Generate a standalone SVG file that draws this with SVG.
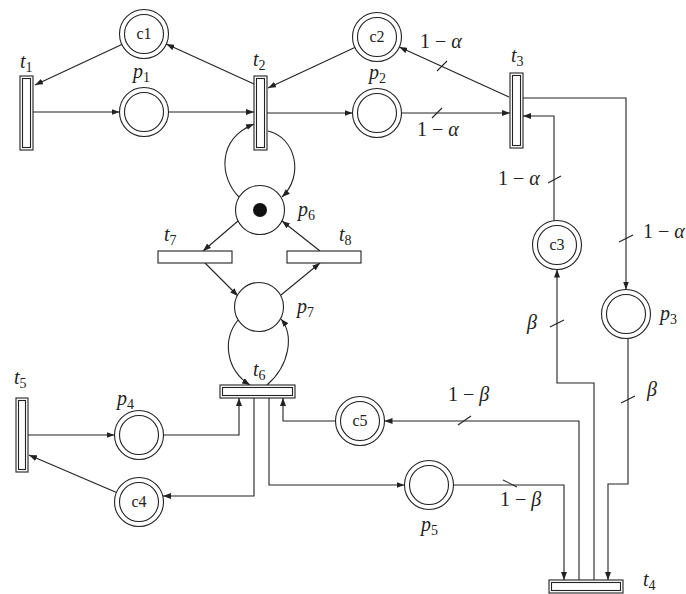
<svg xmlns="http://www.w3.org/2000/svg" width="686" height="594" viewBox="0 0 686 594">
<defs>
<marker id="arr" markerWidth="9" markerHeight="6" refX="8" refY="3" orient="auto" markerUnits="userSpaceOnUse">
<path d="M0,0 L8,3 L0,6 z" fill="#222"/>
</marker>
<style>
.c{fill:none;stroke:#222;stroke-width:1.1;marker-end:url(#arr)}
.tk{fill:none;stroke:#222;stroke-width:1.1}
.pl{fill:#fff;stroke:#222;stroke-width:1.1}
.tr{fill:#fff;stroke:#222;stroke-width:1.1}
.m{font-style:italic;font-size:20px;fill:#222}
.r{font-style:normal;font-size:20px;fill:#222}
.s{font-size:14px;font-style:normal}
.cl{font-size:16px;fill:#222;text-anchor:middle}
</style>
</defs>
<rect width="686" height="594" fill="#fff"/>
<g id="connectors">
<path class="c" d="M121.8,44.4 L35,85"/>
<path class="c" d="M33,112 H119.5"/>
<path class="c" d="M168.5,112 H254"/>
<path class="c" d="M254,84 L166.3,44.1"/>
<path class="c" d="M354.8,47.4 L268,88"/>
<path class="c" d="M267,113 H352.5"/>
<path class="c" d="M401.5,113 H510"/>
<path class="c" d="M509,97 L399.3,47.1"/>
<path class="c" d="M523,98 H626 V289.5"/>
<path class="c" d="M554,220.7 V116 H523"/>
<path class="c" d="M594,580 V383 H557 V269.5"/>
<path class="c" d="M628,338.5 V484 H608 V580"/>
<path class="c" d="M579,580 V421 H384.5"/>
<path class="c" d="M453.5,485 H564 V580"/>
<path class="c" d="M335.5,421 H283 V398"/>
<path class="c" d="M269,398 V485 H404.5"/>
<path class="c" d="M254,398 V496 H163"/>
<path class="c" d="M163.5,435 H239 V398"/>
<path class="c" d="M28,435 H114.5"/>
<path class="c" d="M116.5,492.4 L29,455"/>
<path class="c" d="M268,131 C295,137 305,175 282,197"/>
<path class="c" d="M239,197 C220,178 216,140 254,124"/>
<path class="c" d="M238,221 L203,251"/>
<path class="c" d="M320,251 L282,221"/>
<path class="c" d="M205,263 L238,296"/>
<path class="c" d="M281,295 L320,263"/>
<path class="c" d="M238,320 C222,340 226,370 250,385"/>
<path class="c" d="M267,385 C290,365 294,335 281,319"/>
<path class="tk" d="M432,118 L442,108"/>
<path class="tk" d="M437,71 L447,61"/>
<path class="tk" d="M548,183 L561,176"/>
<path class="tk" d="M619,242 L633,235"/>
<path class="tk" d="M550,327 L564,320"/>
<path class="tk" d="M621,403 L635,396"/>
<path class="tk" d="M458,425 L471,416"/>
<path class="tk" d="M503,480 L517,487"/>
</g>
<g font-family="'Liberation Serif', serif">
<g id="c1"><circle class="pl" cx="144" cy="34" r="24.5"/><circle class="pl" cx="144" cy="34" r="19.5"/><text class="cl" x="144" y="39">c1</text></g>
<g id="p1"><circle class="pl" cx="144" cy="112" r="24.5"/><circle class="pl" cx="144" cy="112" r="19.5"/><text class="m" x="133" y="78">p<tspan class="s" dy="4">1</tspan></text></g>
<g id="c2"><circle class="pl" cx="377" cy="37" r="24.5"/><circle class="pl" cx="377" cy="37" r="19.5"/><text class="cl" x="377" y="42">c2</text></g>
<g id="p2"><circle class="pl" cx="377" cy="113" r="24.5"/><circle class="pl" cx="377" cy="113" r="19.5"/><text class="m" x="369" y="79">p<tspan class="s" dy="4">2</tspan></text></g>
<g id="c3"><circle class="pl" cx="557" cy="245" r="24.5"/><circle class="pl" cx="557" cy="245" r="19.5"/><text class="cl" x="557" y="250">c3</text></g>
<g id="p3"><circle class="pl" cx="626" cy="314" r="24.5"/><circle class="pl" cx="626" cy="314" r="19.5"/><text class="m" x="660" y="320">p<tspan class="s" dy="4">3</tspan></text></g>
<g id="p4"><circle class="pl" cx="139" cy="435" r="24.5"/><circle class="pl" cx="139" cy="435" r="19.5"/><text class="m" x="117" y="405">p<tspan class="s" dy="4">4</tspan></text></g>
<g id="c4"><circle class="pl" cx="139" cy="502" r="24.5"/><circle class="pl" cx="139" cy="502" r="19.5"/><text class="cl" x="139" y="507">c4</text></g>
<g id="c5"><circle class="pl" cx="360" cy="421" r="24.5"/><circle class="pl" cx="360" cy="421" r="19.5"/><text class="cl" x="360" y="426">c5</text></g>
<g id="p5"><circle class="pl" cx="429" cy="485" r="24.5"/><circle class="pl" cx="429" cy="485" r="19.5"/><text class="m" x="421" y="531">p<tspan class="s" dy="4">5</tspan></text></g>
<g id="p6"><circle class="pl" cx="260" cy="210" r="24.5"/><circle cx="260" cy="210" r="7" fill="#111"/><text class="m" x="298" y="216">p<tspan class="s" dy="4">6</tspan></text></g>
<g id="p7"><circle class="pl" cx="259" cy="307" r="24.5"/><text class="m" x="297" y="313">p<tspan class="s" dy="4">7</tspan></text></g>
<g id="t1"><rect class="tr" x="20" y="76" width="13" height="74"/><rect class="tr" x="22.5" y="78.5" width="8" height="69"/><text class="m" x="20" y="68">t<tspan class="s" dy="4">1</tspan></text></g>
<g id="t2"><rect class="tr" x="254" y="76" width="13" height="74"/><rect class="tr" x="256.5" y="78.5" width="8" height="69"/><text class="m" x="253" y="66">t<tspan class="s" dy="4">2</tspan></text></g>
<g id="t3"><rect class="tr" x="510" y="73" width="13" height="75"/><rect class="tr" x="512.5" y="75.5" width="8" height="70"/><text class="m" x="511" y="62">t<tspan class="s" dy="4">3</tspan></text></g>
<g id="t4"><rect class="tr" x="549" y="580" width="74" height="13"/><rect class="tr" x="551.5" y="582.5" width="69" height="8"/><text class="m" x="643" y="586">t<tspan class="s" dy="4">4</tspan></text></g>
<g id="t5"><rect class="tr" x="16" y="398" width="12" height="74"/><rect class="tr" x="18.5" y="400.5" width="7" height="69"/><text class="m" x="14" y="384">t<tspan class="s" dy="4">5</tspan></text></g>
<g id="t6"><rect class="tr" x="220" y="385" width="75" height="13"/><rect class="tr" x="222.5" y="387.5" width="70" height="8"/><text class="m" x="253" y="376">t<tspan class="s" dy="4">6</tspan></text></g>
<g id="t7"><rect class="tr" x="158" y="251" width="74" height="12"/><text class="m" x="164" y="241">t<tspan class="s" dy="4">7</tspan></text></g>
<g id="t8"><rect class="tr" x="287" y="251" width="74" height="12"/><text class="m" x="339" y="241">t<tspan class="s" dy="4">8</tspan></text></g>
<g id="weights">
<text class="r" x="420" y="48">1 − <tspan font-style="italic">α</tspan></text>
<text class="r" x="417" y="136">1 − <tspan font-style="italic">α</tspan></text>
<text class="r" x="498" y="185">1 − <tspan font-style="italic">α</tspan></text>
<text class="r" x="643" y="238">1 − <tspan font-style="italic">α</tspan></text>
<text class="m" x="527" y="329">β</text>
<text class="m" x="647" y="396">β</text>
<text class="r" x="448" y="401">1 − <tspan font-style="italic">β</tspan></text>
<text class="r" x="500" y="506">1 − <tspan font-style="italic">β</tspan></text>
</g>
</g>
</svg>
